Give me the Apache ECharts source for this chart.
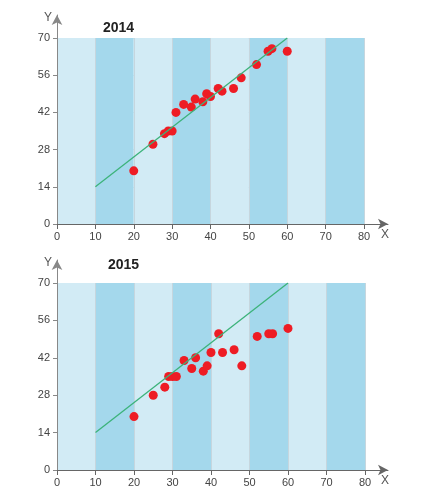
<!DOCTYPE html>
<html><head><meta charset="utf-8">
<script src="https://cdn.jsdelivr.net/npm/echarts@6/dist/echarts.min.js"></script>
<style>html,body{margin:0;padding:0;background:#fff}#c{width:424px;height:500px}</style>
</head><body><div id="c"></div>
<script>
var titles = ['2014', '2015'];
var xValues = [20,25,28,29,30,31,33,35,36,38,39,40,42,43,46,48,52,55,56,60];
var y2014 = [20,30,34,35,35,42,45,44,47,46,49,48,51,50,51,55,60,65,66,65];
var y2015 = [20,28,31,35,35,35,41,38,42,37,39,44,51,44,45,39,50,51,51,53];
var trendX = [10, 60];
var trendY = [14, 70];
var xTicks = {min: 0, max: 80, interval: 10};
var yTicks = {min: 0, max: 70, interval: 14};

function pairs(xs, ys){ return xs.map(function(x,i){ return [x, ys[i]]; }); }

var font = 'Arial, "Liberation Sans", sans-serif';
var layouts = [
  {main:{left:57, top:38, width:307, height:186}, over:{left:57, top:15, width:331, height:209}, title:{left:103, top:21}},
  {main:{left:57, top:283, width:308, height:187}, over:{left:57, top:260, width:331, height:210}, title:{left:108, top:258}}
];
var grids = [], xAxes = [], yAxes = [], series = [], titleOpts = [];
var seriesData = [y2014, y2015];
layouts.forEach(function(L, k){
  var gi = grids.length;
  grids.push(L.main); grids.push(L.over);
  titleOpts.push({text: titles[k], left: L.title.left, top: L.title.top, padding:0,
    textStyle:{fontSize:14, fontWeight:'bold', color:'#222', fontFamily:font}});
  xAxes.push({gridIndex: gi, type:'value', min:xTicks.min, max:xTicks.max, interval:xTicks.interval,
    axisLine:{show:true, lineStyle:{color:'#666', width:1}},
    axisTick:{show:true, length:5, lineStyle:{color:'#666'}},
    axisLabel:{color:'#444', fontSize:11, fontFamily:font, margin:7},
    splitLine:{show:true, lineStyle:{color:'#c6d6de', width:1}},
    splitArea:{show:true, areaStyle:{color:['#d2ebf5','#a4d8ec']}}});
  yAxes.push({gridIndex: gi, type:'value', min:yTicks.min, max:yTicks.max, interval:yTicks.interval,
    axisLine:{show:true, lineStyle:{color:'#888', width:1}},
    axisTick:{show:true, length:4, lineStyle:{color:'#888'}},
    axisLabel:{color:'#444', fontSize:11, fontFamily:font, margin:7},
    splitLine:{show:true, lineStyle:{color:'#d6dde0', width:1}}});
  xAxes.push({gridIndex: gi+1, type:'value', min:0, max:1, name:'X', nameLocation:'end', nameGap:-3,
    nameTextStyle:{color:'#555', fontSize:12, fontFamily:font, align:'center', verticalAlign:'top', padding:[5,0,0,0]},
    axisLine:{show:true, symbol:['none','arrow'], symbolSize:[8,10], lineStyle:{color:'#666', width:1}},
    axisTick:{show:false}, axisLabel:{show:false}, splitLine:{show:false}});
  yAxes.push({gridIndex: gi+1, type:'value', min:0, max:1, name:'Y', nameLocation:'end', nameGap:-3,
    nameTextStyle:{color:'#555', fontSize:12, fontFamily:font, align:'right', verticalAlign:'middle', padding:[0,5,0,0]},
    axisLine:{show:true, symbol:['none','arrow'], symbolSize:[8,10], lineStyle:{color:'#888', width:1}},
    axisTick:{show:false}, axisLabel:{show:false}, splitLine:{show:false}});
  var ai = xAxes.length - 2;
  series.push({type:'line', xAxisIndex:ai, yAxisIndex:ai, data:pairs(trendX, trendY), symbol:'none',
    lineStyle:{color:'#3cb37a', width:1.3}, silent:true, animation:false});
  series.push({type:'scatter', xAxisIndex:ai, yAxisIndex:ai, data:pairs(xValues, seriesData[k]), symbolSize:9,
    itemStyle:{color:'#ee1c24', opacity:1}, animation:false});
});

var chart = echarts.init(document.getElementById('c'), null, {renderer:'canvas'});
chart.setOption({animation:false, title:titleOpts, grid:grids, xAxis:xAxes, yAxis:yAxes, series:series});
</script></body></html>
